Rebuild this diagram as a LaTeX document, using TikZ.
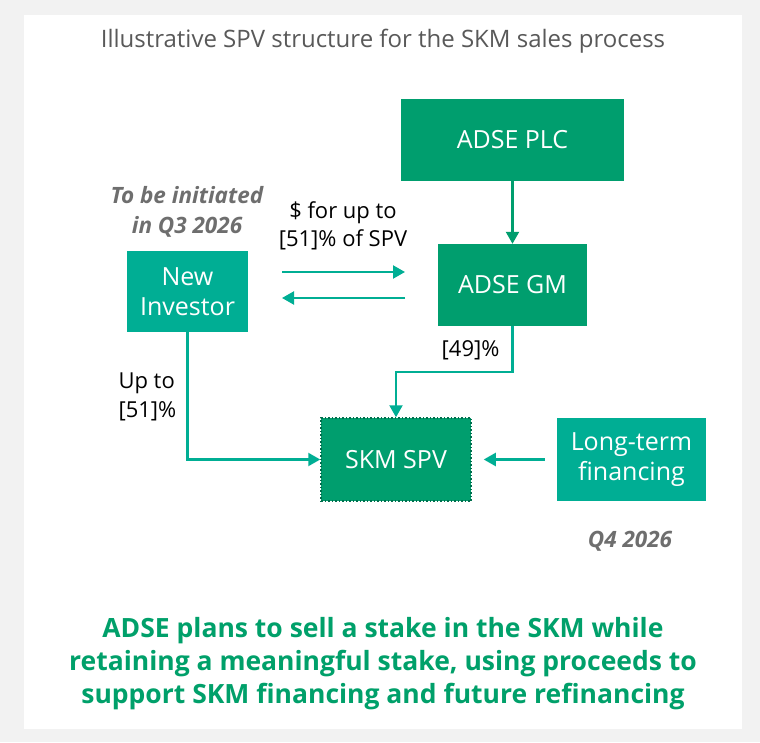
\documentclass[tikz,border=0pt]{standalone}
\usepackage{fontspec}
\setmainfont{Open Sans}
\usetikzlibrary{arrows.meta,calc}
\definecolor{dkgreen}{HTML}{009E6E}
\definecolor{teal}{HTML}{00AE94}
\definecolor{txtgray}{HTML}{595959}
\definecolor{notegray}{HTML}{6E6E6E}
\definecolor{bggray}{HTML}{F2F2F2}
\definecolor{headgreen}{HTML}{00A06A}
\begin{document}
\begin{tikzpicture}[x=1pt,y=-1pt,
  box/.style={inner sep=0pt,align=center,text=white,font=\fontsize{25}{30}\selectfont},
  darkbox/.style={box,fill=dkgreen},
  tealbox/.style={box,fill=teal},
  arr/.style={draw=teal,line width=2.2pt,-{Triangle[length=12pt,width=13pt]}},
  darr/.style={arr,draw=dkgreen,-{Triangle[length=12pt,width=13pt]}},
  note/.style={font=\fontsize{22.5}{30}\selectfont\bfseries\itshape,text=notegray,align=center},
  lbl/.style={font=\fontsize{22}{28.5}\selectfont,text=black}]
\fill[bggray] (0,0) rectangle (760,742);
\fill[white] (24,15) rectangle (742,729);
\node[font=\fontsize{24}{28}\selectfont,text=txtgray] (title) at (383,41) {Illustrative SPV structure for the SKM sales process};
\node[darkbox,minimum width=223pt,minimum height=82pt] (plc) at (512.5,139.5) {ADSE PLC};
\node[darkbox,minimum width=149pt,minimum height=82pt] (gm) at (512.5,285) {ADSE GM};
\node[tealbox,minimum width=121pt,minimum height=81pt] (ni) at (187.5,291.5) {New\\Investor};
\node[darkbox,minimum width=150pt,minimum height=83pt,draw=dkgreen!70!black,dotted,line width=1.5pt] (spv) at (396,459.5) {SKM SPV};
\node[tealbox,minimum width=149pt,minimum height=83pt] (ltf) at (631.5,459.5) {Long-term\\financing};
\node[note] (q3) at (187,212) {To be initiated\\in Q3 2026};
\node[note] (q4) at (630,541) {Q4 2026};
\node[lbl,align=center] (pay) at (343,226) {\$ for up to\\{[51]\% of SPV}};
\node[lbl,align=left,anchor=west] (up) at (115,397) {Up to\\{[51]\%}};
\node[lbl,anchor=east] (p49) at (503,350) {[49]\%};
\coordinate (r1) at (282,272);
\coordinate (r2) at (405,272);
\coordinate (l1) at (405,298);
\coordinate (l2) at (282,298);
\draw[darr] (plc) -- (gm);
\draw[arr] (r1) -- (r2);
\draw[arr] (l1) -- (l2);
\draw[arr] (ni.south) |- (spv.west);
\draw[arr] (gm.south) -- ++(0,46) -| (spv.north);
\draw[arr] ([xshift=-12pt]ltf.west) -- ([xshift=12pt]spv.east);
\node[font=\fontsize{26.5}{33}\selectfont\bfseries,text=headgreen,align=center] (msg) at (383,664) {ADSE plans to sell a stake in the SKM while\\retaining a meaningful stake, using proceeds to\\support SKM financing and future refinancing};
\end{tikzpicture}
\end{document}
